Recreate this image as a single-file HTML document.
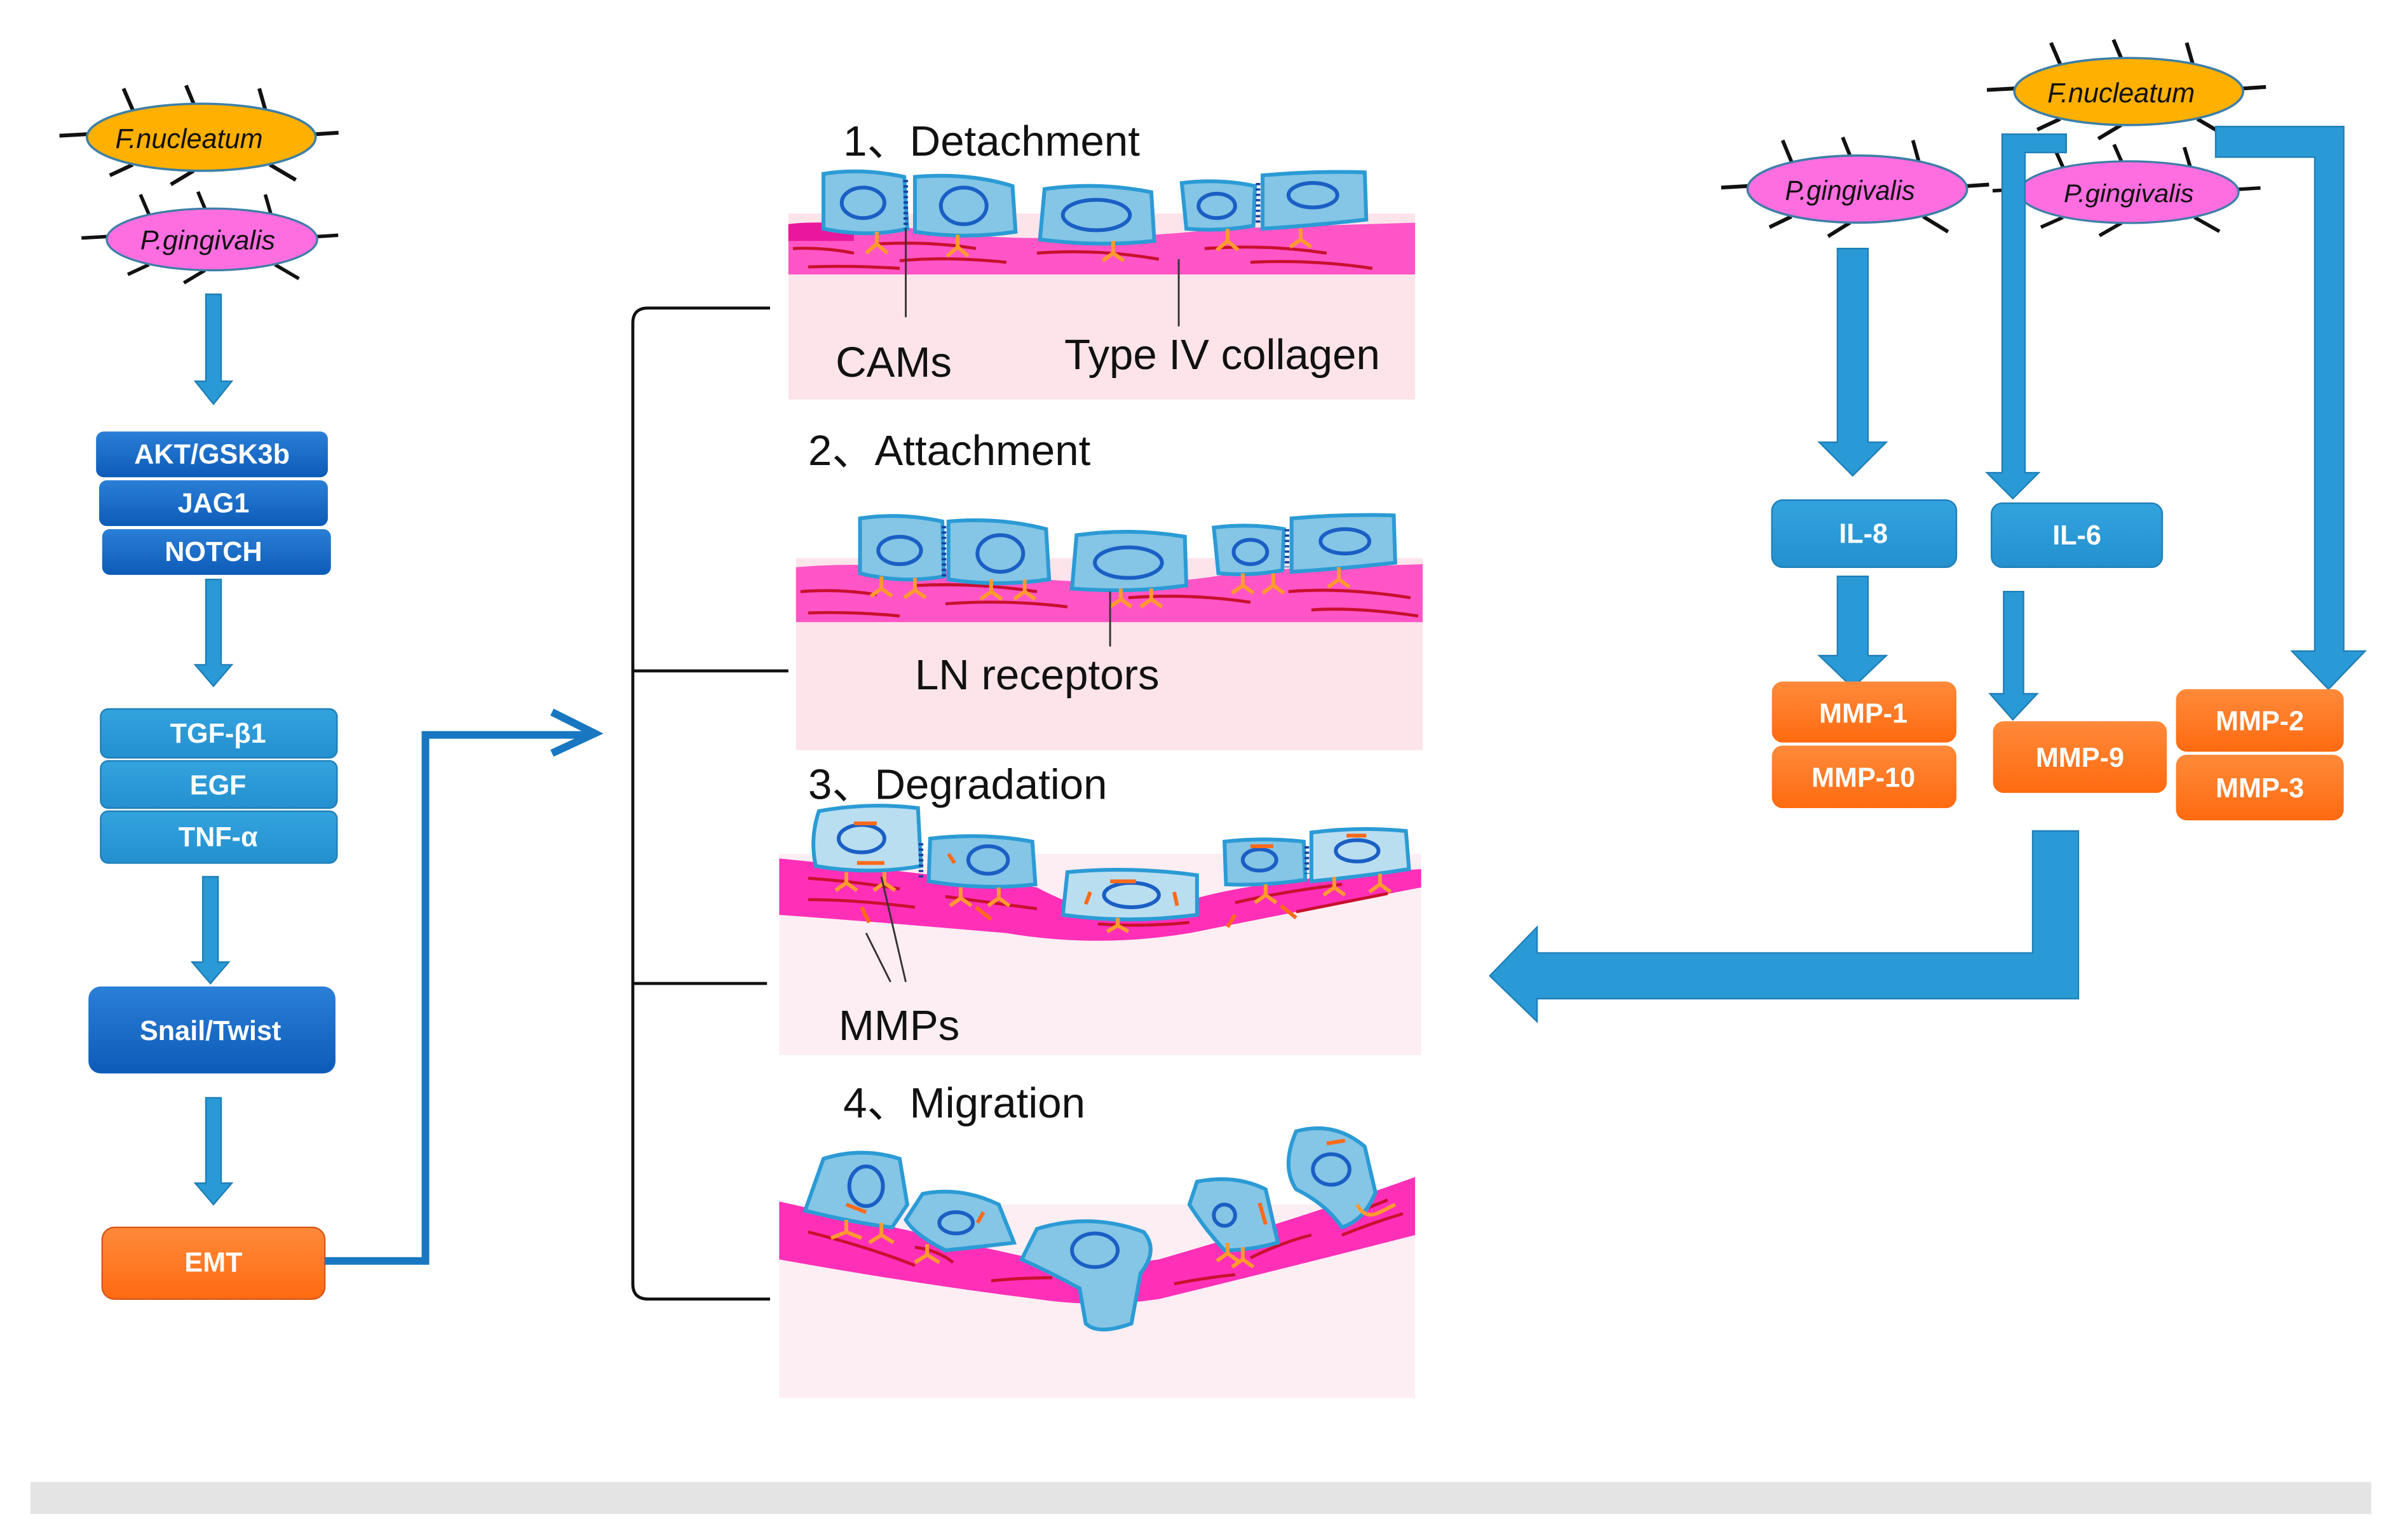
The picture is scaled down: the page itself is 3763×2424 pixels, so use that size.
<!DOCTYPE html>
<html><head><meta charset="utf-8"><style>
html,body{margin:0;padding:0;background:#fff;}
svg{display:block;}
text{font-family:"Liberation Sans",sans-serif;}
.bx{font-weight:bold;fill:#fff;font-size:18px;text-anchor:middle;}
.tt{font-size:28px;fill:#111;}
.bac{font-style:italic;font-size:18px;fill:#111;text-anchor:middle;}
.cell{fill:#85c5e5;stroke:#2b9bd5;stroke-width:2.5;}
.cellL{fill:#b9def0;stroke:#2b9bd5;stroke-width:2.5;}
.nuc{fill:none;stroke:#1a5fc4;stroke-width:2.5;}
.col{fill:none;stroke:#c8102e;stroke-width:2;}
.rec{fill:none;stroke:#ff9a30;stroke-width:2.5;}
.mm{fill:none;stroke:#ff6a1a;stroke-width:2.5;}
.sp{fill:none;stroke:#111;stroke-width:2.5;}
</style></head><body>
<svg width="3763" height="2424" viewBox="0 0 1568 1010" xmlns="http://www.w3.org/2000/svg">
<defs>
<linearGradient id="db" x1="0" y1="0" x2="0" y2="1"><stop offset="0" stop-color="#2a7fd6"/><stop offset="1" stop-color="#0d5bb8"/></linearGradient>
<linearGradient id="lb" x1="0" y1="0" x2="0" y2="1"><stop offset="0" stop-color="#33a3de"/><stop offset="1" stop-color="#2490cf"/></linearGradient>
<linearGradient id="og" x1="0" y1="0" x2="0" y2="1"><stop offset="0" stop-color="#ff8a3a"/><stop offset="1" stop-color="#ff6a10"/></linearGradient>
</defs>
<rect width="1568" height="1010" fill="#fff"/>
<rect x="20" y="972" width="1535" height="21" fill="#e4e4e4"/>

<!-- LEFT bacteria -->
<g transform="translate(132,90)"><path class="sp" d="M-93,-1 L-75,-2 M75,-2 L90,-3 M-45,-18 L-51,-32 M-5,-22 L-10,-34 M42,-18 L38,-32 M-45,18 L-60,25 M-5,22 L-20,31 M45,18 L62,28"/><ellipse rx="75" ry="22" fill="#ffb000" stroke="#3d7fa8" stroke-width="1.5"/><text class="bac" y="7" x="-8">F.nucleatum</text></g>
<g transform="translate(139,157) scale(0.92,0.92)"><path class="sp" d="M-93,-1 L-75,-2 M75,-2 L90,-3 M-45,-18 L-51,-32 M-5,-22 L-10,-34 M42,-18 L38,-32 M-45,18 L-60,25 M-5,22 L-20,31 M45,18 L62,28"/><ellipse rx="75" ry="22" fill="#ff6ee0" stroke="#3d7fa8" stroke-width="1.5"/><text class="bac" y="7" x="-3" style="font-size:19.5px">P.gingivalis</text></g>

<!-- left arrows -->
<g fill="#2a9ad6" stroke="#1f7fb8" stroke-width="1">
<path d="M135,193 H145 V250 H152 L140,265 L128,250 H135 Z"/>
<path d="M135,380 H145 V436 H152 L140,450 L128,436 H135 Z"/>
<path d="M133,575 H143 V631 H150 L138,645 L126,631 H133 Z"/>
<path d="M135,720 H145 V776 H152 L140,790 L128,776 H135 Z"/>
</g>
<rect x="63" y="283" width="152" height="30" rx="5" fill="url(#db)"/><text class="bx" x="139" y="304">AKT/GSK3b</text>
<rect x="65" y="315" width="150" height="30" rx="5" fill="url(#db)"/><text class="bx" x="140" y="336">JAG1</text>
<rect x="67" y="347" width="150" height="30" rx="5" fill="url(#db)"/><text class="bx" x="140" y="368">NOTCH</text>
<rect x="66" y="465" width="155" height="32" rx="5" fill="url(#lb)" stroke="#1f7fb8"/><text class="bx" x="143" y="487">TGF-β1</text>
<rect x="66" y="499" width="155" height="31" rx="5" fill="url(#lb)" stroke="#1f7fb8"/><text class="bx" x="143" y="521">EGF</text>
<rect x="66" y="532" width="155" height="34" rx="5" fill="url(#lb)" stroke="#1f7fb8"/><text class="bx" x="143" y="555">TNF-α</text>
<rect x="58" y="647" width="162" height="57" rx="8" fill="url(#db)"/><text class="bx" x="138" y="682">Snail/Twist</text>
<rect x="67" y="805" width="146" height="47" rx="8" fill="url(#og)" stroke="#d8581a"/><text class="bx" x="140" y="834">EMT</text>
<path d="M213,827 H279 V482 H388" fill="none" stroke="#1877c0" stroke-width="5"/>
<path d="M362,467 L390,481 L362,494" fill="none" stroke="#1877c0" stroke-width="5"/>

<!-- bracket -->
<path d="M505,202 H425 Q415,202 415,212 V842 Q415,852 425,852 H505 M415,440 H517 M415,645 H503" fill="none" stroke="#111" stroke-width="2"/>

<!-- PANEL 1 -->
<rect x="517" y="140" width="411" height="122" fill="#fde4ea"/>
<path d="M517,147 Q560,143 600,150 T700,156 T800,150 L928,146 V180 H517 Z" fill="#ff55c6"/>
<path d="M517,147 Q540,144 560,150 L560,158 L517,158 Z" fill="#e8179b"/>
<g class="col"><path d="M520,163 Q540,162 560,166 M575,160 Q610,158 640,163 M590,171 Q620,168 660,172 M680,166 Q720,163 760,170 M790,163 Q830,160 870,166 M820,172 Q860,170 900,176 M530,175 Q560,174 590,176"/></g>
<path class="cell" d="M540,114 Q565,110 593,116 L595,150 Q570,156 540,150 Z"/>
<path class="cell" d="M600,116 Q635,113 664,122 L666,152 Q632,157 600,152 Z"/>
<path class="cell" d="M685,124 Q720,119 755,126 L757,158 Q720,162 682,157 Z"/>
<path class="cell" d="M775,120 Q800,117 823,122 L822,148 Q800,152 778,150 Z"/>
<path class="cell" d="M828,115 Q862,112 895,113 L896,144 Q860,148 828,150 Z"/>
<g class="nuc"><ellipse cx="566" cy="133" rx="14" ry="10"/><ellipse cx="632" cy="135" rx="15" ry="12"/><ellipse cx="719" cy="141" rx="22" ry="10"/><ellipse cx="798" cy="135" rx="12" ry="8"/><ellipse cx="861" cy="128" rx="16" ry="8"/></g>
<path d="M594,118 V150" stroke="#1a3fa0" stroke-width="3" stroke-dasharray="1.5,2"/><path d="M825,120 V146" stroke="#1a3fa0" stroke-width="3" stroke-dasharray="1.5,2"/>
<g class="rec"><path d="M575,152 V160 L568,166 M575,160 L582,166 M628,154 V162 L621,168 M628,162 L635,168 M730,158 V166 L723,171 M730,166 L737,171 M805,150 V158 L798,164 M805,158 L812,164 M853,150 V157 L846,162 M853,157 L860,162"/></g>
<path d="M594,150 V208 M773,170 V214" stroke="#333" stroke-width="1.2"/>
<text class="tt" x="553" y="102">1、Detachment</text>
<text class="tt" x="548" y="247">CAMs</text>
<text class="tt" x="698" y="242">Type IV collagen</text>

<!-- PANEL 2 -->
<rect x="522" y="366" width="411" height="126" fill="#fde4ea"/>
<path d="M522,372 Q570,368 620,374 T720,382 T820,374 L933,370 V408 H522 Z" fill="#ff55c6"/>
<g class="col"><path d="M525,388 Q550,386 575,390 M600,384 Q640,382 680,388 M620,396 Q660,393 700,398 M740,392 Q780,389 820,395 M845,388 Q880,385 925,392 M860,400 Q890,398 930,404 M530,402 Q560,401 590,404"/></g>
<path class="cell" d="M564,340 Q590,336 618,342 L619,378 Q592,383 564,376 Z"/>
<path class="cell" d="M622,342 Q655,339 686,347 L688,380 Q655,385 622,380 Z"/>
<path class="cell" d="M706,351 Q742,346 777,352 L778,384 Q742,389 703,386 Z"/>
<path class="cell" d="M796,346 Q820,343 842,347 L841,374 Q820,378 799,376 Z"/>
<path class="cell" d="M847,340 Q880,337 914,338 L915,369 Q880,373 847,375 Z"/>
<g class="nuc"><ellipse cx="590" cy="361" rx="14" ry="9"/><ellipse cx="656" cy="363" rx="15" ry="12"/><ellipse cx="740" cy="369" rx="22" ry="10"/><ellipse cx="820" cy="362" rx="11" ry="8"/><ellipse cx="882" cy="355" rx="16" ry="8"/></g>
<path d="M619,345 V378" stroke="#1a3fa0" stroke-width="3" stroke-dasharray="1.5,2"/><path d="M844,347 V372" stroke="#1a3fa0" stroke-width="3" stroke-dasharray="1.5,2"/>
<g class="rec"><path d="M578,378 V386 L571,391 M578,386 L585,391 M600,379 V387 L593,392 M600,387 L607,392 M650,380 V388 L643,393 M650,388 L657,393 M672,380 V388 L665,393 M672,388 L679,393 M735,386 V393 L728,398 M735,393 L742,398 M755,386 V393 L748,398 M755,393 L762,398 M815,376 V384 L808,389 M815,384 L822,389 M835,376 V384 L828,389 M835,384 L842,389 M878,372 V380 L871,385 M878,380 L885,385"/></g>
<path d="M728,388 V424" stroke="#333" stroke-width="1.2"/>
<text class="tt" x="530" y="305">2、Attachment</text>
<text class="tt" x="600" y="452">LN receptors</text>

<!-- PANEL 3 -->
<rect x="511" y="560" width="421" height="132" fill="#fdeef3"/>
<path d="M511,563 Q600,572 680,582 Q720,604 760,598 Q800,578 932,570 V582 Q860,596 780,612 Q720,622 660,612 Q580,605 511,600 Z" fill="#ff2fb8"/>
<g class="col"><path d="M530,576 Q560,578 590,583 M530,590 Q560,590 600,595 M620,588 Q650,592 680,596 M720,606 Q750,608 780,605 M810,592 Q840,585 880,580 M850,598 Q880,592 910,586"/></g>
<g class="mm"><path d="M565,595 L570,605 M640,595 L650,603 M810,600 L805,608 M840,594 L850,602"/></g>
<path class="cellL" d="M537,532 Q570,526 602,530 L604,568 Q570,574 535,568 Q531,550 537,532 Z"/>
<path class="cell" d="M610,550 Q645,546 677,552 L679,580 Q645,584 609,578 Z"/>
<path class="cellL" d="M700,572 Q740,568 785,574 L785,600 Q740,606 697,600 Z"/>
<path class="cell" d="M803,552 Q828,549 855,552 L856,577 Q830,581 804,580 Z"/>
<path class="cellL" d="M860,546 Q892,542 922,545 L924,570 Q892,575 860,578 Z"/>
<g class="nuc"><ellipse cx="565" cy="550" rx="15" ry="9"/><ellipse cx="648" cy="564" rx="13" ry="9"/><ellipse cx="742" cy="587" rx="18" ry="8"/><ellipse cx="826" cy="564" rx="11" ry="7"/><ellipse cx="890" cy="558" rx="14" ry="7"/></g>
<g class="mm"><path d="M560,540 H575 M562,566 H580 M622,560 L626,566 M728,578 H745 M715,585 L712,593 M770,585 L772,594 M820,555 H835 M883,548 H896"/></g>
<path d="M604,553 V576 M857,555 V573" stroke="#1a3fa0" stroke-width="3" stroke-dasharray="1.5,2"/>
<g class="rec"><path d="M555,572 V579 L548,584 M555,579 L562,584 M580,572 V579 L573,584 M580,579 L587,584 M630,582 V589 L623,594 M630,589 L637,594 M655,582 V589 L648,594 M655,589 L662,594 M733,602 V607 L726,611 M733,607 L740,611 M830,580 V587 L823,592 M830,587 L837,592 M875,575 V582 L868,587 M875,582 L882,587 M905,573 V580 L898,585 M905,580 L912,585"/></g>
<path d="M568,612 L584,644 M578,575 L594,644" stroke="#333" stroke-width="1.2"/>
<text class="tt" x="530" y="524">3、Degradation</text>
<text class="tt" x="550" y="682">MMPs</text>

<!-- PANEL 4 -->
<rect x="511" y="790" width="417" height="127" fill="#fdeef3"/>
<path d="M511,788 Q600,808 680,826 Q720,832 760,826 Q850,800 928,772 V810 Q850,830 760,852 Q720,858 680,852 Q600,842 511,826 Z" fill="#ff2fb8"/>
<g class="col"><path d="M530,808 Q570,818 600,830 M600,818 Q615,820 625,828 M650,840 Q670,838 690,838 M770,842 Q790,838 810,836 M820,825 Q840,815 860,810 M880,810 Q900,802 920,796 M890,795 L910,787"/></g>
<path class="cell" d="M540,760 Q565,752 590,760 L595,790 L585,805 Q560,802 528,794 Z"/>
<path class="cell" d="M605,783 Q630,778 655,790 L665,815 Q640,818 620,820 Q600,810 594,800 Z"/>
<path class="cell" d="M680,806 Q715,795 750,808 Q760,820 748,835 L742,868 Q720,876 712,868 L708,845 Q690,835 670,826 Z"/>
<path class="cell" d="M785,775 Q810,770 830,780 L838,815 Q820,820 803,820 Q790,806 780,790 Z"/>
<path class="cell" d="M850,742 Q875,735 895,752 L902,782 Q895,800 880,805 Q870,790 850,780 Q840,765 850,742 Z"/>
<g class="nuc"><ellipse cx="568" cy="778" rx="11" ry="13"/><ellipse cx="627" cy="802" rx="11" ry="7"/><ellipse cx="718" cy="820" rx="15" ry="11"/><ellipse cx="803" cy="797" rx="7" ry="7"/><ellipse cx="873" cy="767" rx="12" ry="10"/></g>
<g class="mm"><path d="M555,790 L568,795 M645,795 L641,802 M826,789 L830,803 M870,750 L882,748"/></g>
<g class="rec"><path d="M555,800 V808 L545,812 M555,808 L565,812 M578,802 V810 L570,815 M578,810 L586,815 M608,816 V823 L600,828 M608,823 L616,828 M805,815 V822 L798,827 M805,822 L812,827 M815,818 V826 L808,831 M815,826 L822,831 M890,790 Q895,800 905,795 L915,790"/></g>
<text class="tt" x="553" y="733">4、Migration</text>

<!-- RIGHT bacteria -->
<g transform="translate(1218,124) scale(0.96,1)"><path class="sp" d="M-93,-1 L-75,-2 M75,-2 L90,-3 M-45,-18 L-51,-32 M-5,-22 L-10,-34 M42,-18 L38,-32 M-45,18 L-60,25 M-5,22 L-20,31 M45,18 L62,28"/><ellipse rx="75" ry="22" fill="#ff6ee0" stroke="#3d7fa8" stroke-width="1.5"/><text class="bac" y="7" x="-5">P.gingivalis</text></g>
<g transform="translate(1396,60)"><path class="sp" d="M-93,-1 L-75,-2 M75,-2 L90,-3 M-45,-18 L-51,-32 M-5,-22 L-10,-34 M42,-18 L38,-32 M-45,18 L-60,25 M-5,22 L-20,31 M45,18 L62,28"/><ellipse rx="75" ry="22" fill="#ffb000" stroke="#3d7fa8" stroke-width="1.5"/><text class="bac" y="7" x="-5">F.nucleatum</text></g>
<g transform="translate(1396,126) scale(0.96,0.92)"><path class="sp" d="M-93,-1 L-75,-2 M75,-2 L90,-3 M-45,-18 L-51,-32 M-5,-22 L-10,-34 M42,-18 L38,-32 M-45,18 L-60,25 M-5,22 L-20,31 M45,18 L62,28"/><ellipse rx="75" ry="22" fill="#ff6ee0" stroke="#3d7fa8" stroke-width="1.5"/><text class="bac" y="7" x="0">P.gingivalis</text></g>

<g fill="#2a9ad6" stroke="#1f7fb8" stroke-width="1">
<path d="M1205,163 H1225 V290 H1237 L1215,312 L1193,290 H1205 Z"/>
<path d="M1355,88 V100 H1328 V310 H1337 L1320,327 L1303,310 H1313 V88 Z"/>
<path d="M1453,83 H1537 V427 H1551 L1527,452 L1503,427 H1518 V103 H1453 Z"/>
<path d="M1205,378 H1225 V430 H1237 L1215,451 L1193,430 H1205 Z"/>
<path d="M1314,388 H1327 V455 H1336 L1320,472 L1305,455 H1314 Z"/>
<path d="M1333,545 H1363 V655 H1008 V670 L977,640 L1008,608 V625 H1333 Z"/>
</g>

<rect x="1162" y="328" width="121" height="44" rx="7" fill="url(#lb)" stroke="#1f7fb8"/><text class="bx" x="1222" y="356">IL-8</text>
<rect x="1306" y="330" width="112" height="42" rx="7" fill="url(#lb)" stroke="#1f7fb8"/><text class="bx" x="1362" y="357">IL-6</text>
<rect x="1162" y="447" width="121" height="40" rx="7" fill="url(#og)"/><text class="bx" x="1222" y="474">MMP-1</text>
<rect x="1162" y="489" width="121" height="41" rx="7" fill="url(#og)"/><text class="bx" x="1222" y="516">MMP-10</text>
<rect x="1307" y="473" width="114" height="47" rx="7" fill="url(#og)"/><text class="bx" x="1364" y="503">MMP-9</text>
<rect x="1427" y="452" width="110" height="41" rx="7" fill="url(#og)"/><text class="bx" x="1482" y="479">MMP-2</text>
<rect x="1427" y="495" width="110" height="43" rx="7" fill="url(#og)"/><text class="bx" x="1482" y="523">MMP-3</text>
</svg>
</body></html>
